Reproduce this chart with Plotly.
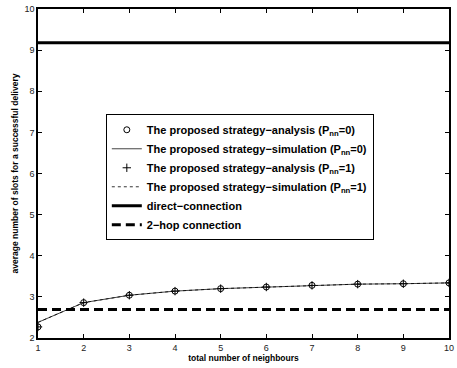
import plotly.graph_objects as go

# number of neighbours
neighbours = [1, 2, 3, 4, 5, 6, 7, 8, 9, 10]
# average slots per successful delivery
analysis_p0 = [2.27, 2.86, 3.04, 3.14, 3.20, 3.24, 3.28, 3.31, 3.32, 3.34]
simulation_p0 = [2.38, 2.86, 3.04, 3.14, 3.20, 3.24, 3.28, 3.31, 3.32, 3.34]
analysis_p1 = [2.27, 2.86, 3.04, 3.14, 3.20, 3.24, 3.28, 3.31, 3.32, 3.34]
simulation_p1 = [2.38, 2.86, 3.04, 3.14, 3.20, 3.24, 3.28, 3.31, 3.32, 3.34]
direct_connection = 9.18
two_hop_connection = 2.69

FONT = "Liberation Sans, Arial, sans-serif"

fig = go.Figure()

fig.add_trace(go.Scatter(
    x=neighbours, y=analysis_p0, mode="markers",
    name="<b>The proposed strategy\u2212analysis (P<sub>nn</sub>=0)</b>",
    marker=dict(symbol="circle-open", size=6, color="black", line=dict(width=1, color="black")),
))
fig.add_trace(go.Scatter(
    x=neighbours, y=simulation_p0, mode="lines",
    name="<b>The proposed strategy\u2212simulation (P<sub>nn</sub>=0)</b>",
    line=dict(color="#444444", width=1),
))
fig.add_trace(go.Scatter(
    x=neighbours, y=analysis_p1, mode="markers",
    name="<b>The proposed strategy\u2212analysis (P<sub>nn</sub>=1)</b>",
    marker=dict(symbol="cross-thin-open", size=6, color="black", line=dict(width=1, color="black")),
))
fig.add_trace(go.Scatter(
    x=neighbours, y=simulation_p1, mode="lines",
    name="<b>The proposed strategy\u2212simulation (P<sub>nn</sub>=1)</b>",
    line=dict(color="black", width=0.8, dash="dot"),
))
fig.add_trace(go.Scatter(
    x=[neighbours[0], neighbours[-1]], y=[direct_connection, direct_connection], mode="lines",
    name="<b>direct\u2212connection</b>",
    line=dict(color="black", width=3),
))
fig.add_trace(go.Scatter(
    x=[neighbours[0], neighbours[-1]], y=[two_hop_connection, two_hop_connection], mode="lines",
    name="<b>2\u2212hop connection</b>",
    line=dict(color="black", width=3, dash="9px,5px"),
))

axis_common = dict(
    showline=True, linecolor="black", linewidth=1.5, mirror="ticks",
    ticks="inside", ticklen=4, tickcolor="black", tickwidth=1,
    showgrid=False, zeroline=False, ticklabeloverflow="allow",
    tickfont=dict(family=FONT, size=9, color="#222222"),
)

fig.update_layout(
    width=457, height=368,
    margin=dict(l=38, r=3, t=9, b=30),
    paper_bgcolor="white", plot_bgcolor="white",
    font=dict(family=FONT, color="black"),
    showlegend=True,
    legend=dict(
        x=0.165, y=0.68, xanchor="left", yanchor="top",
        bgcolor="white", bordercolor="black", borderwidth=1,
        font=dict(family=FONT, size=11, color="black"),
        tracegroupgap=0, itemwidth=30,
    ),
    xaxis=dict(range=[1, 10], dtick=1,
               title=dict(text="<b>total number of neighbours</b>", font=dict(family=FONT, size=8.5), standoff=2),
               **axis_common),
    yaxis=dict(range=[2, 10], dtick=1,
               title=dict(text="<b>average number of slots for a successful delivery</b>", font=dict(family=FONT, size=8.5), standoff=4),
               **axis_common),
)

fig.write_html("out.html")
